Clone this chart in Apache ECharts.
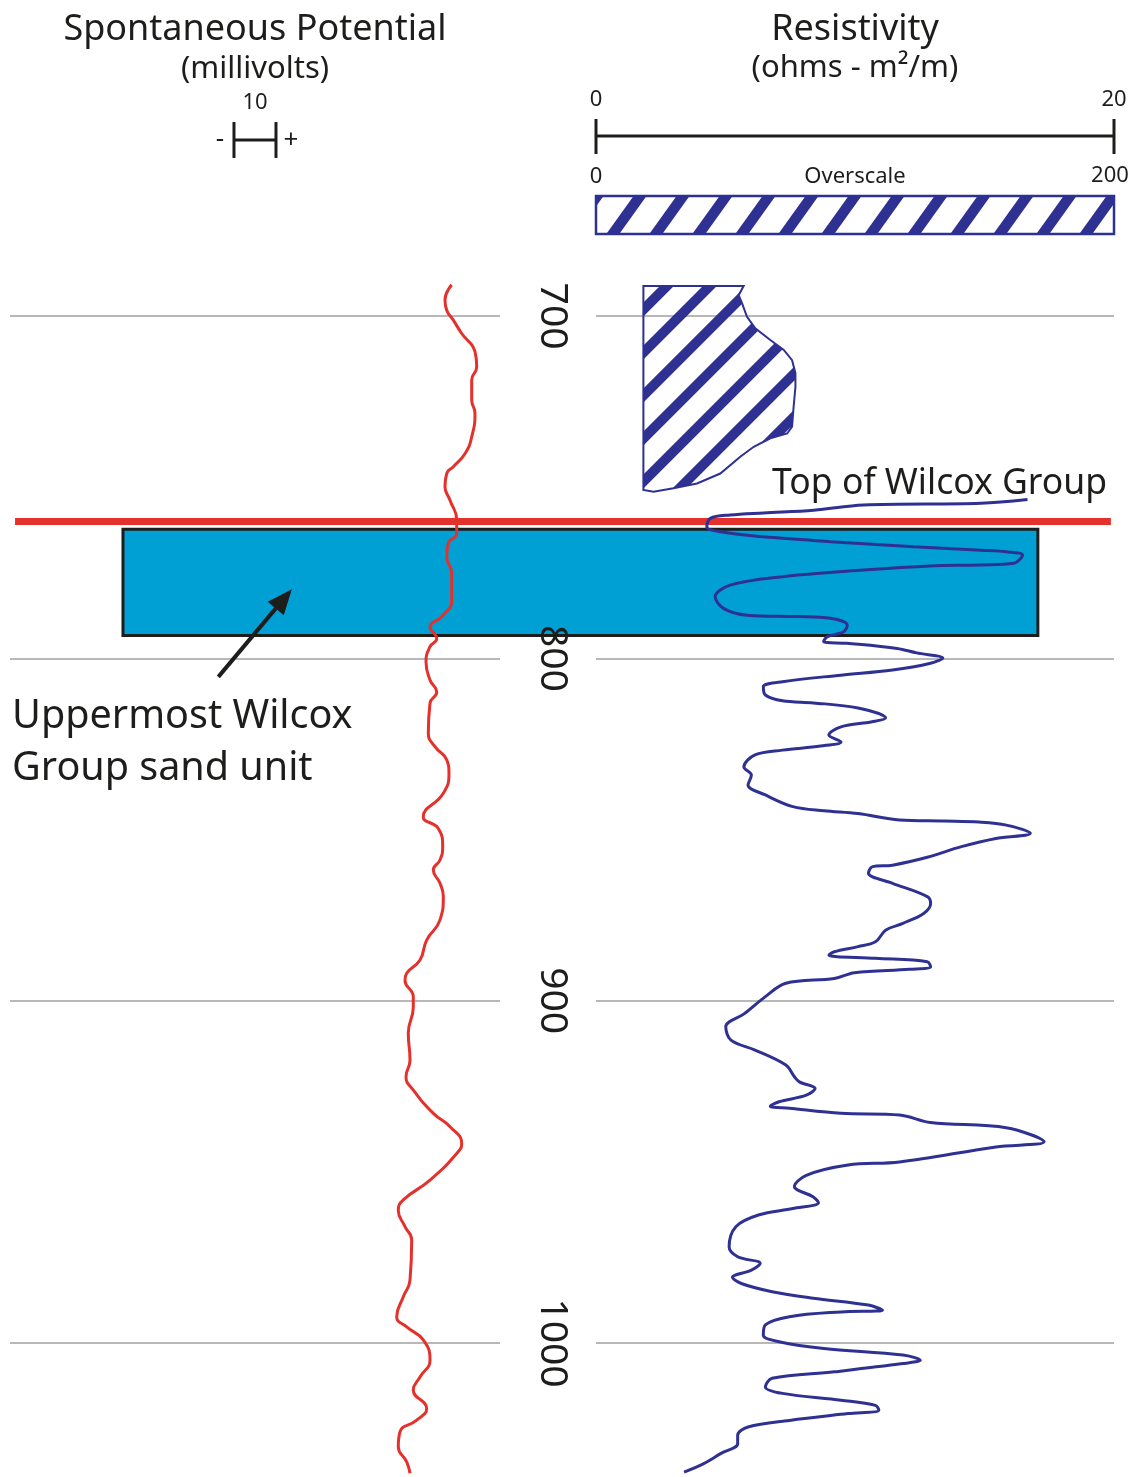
<!DOCTYPE html>
<html>
<head>
<meta charset="utf-8">
<title>Spontaneous Potential and Resistivity log</title>
<style>
  html, body { margin: 0; padding: 0; background: #ffffff; }
  #chart { width: 1136px; height: 1477px; }
</style>
<script src="https://cdn.jsdelivr.net/npm/echarts@6/dist/echarts.min.js"></script>
</head>
<body>
<div id="chart"></div>
<script>
// ---- Log readings (depth in m) ----
const depthTicks = [700, 800, 900, 1000];

// Spontaneous potential, mV (relative scale)
const spDepth = [690.9, 695.3, 698.3, 701.2, 705.1, 710.4, 714.8, 718.7, 724.5, 728.4, 735.3, 740.1, 744.0, 746.0, 749.9,
  753.8, 759.6, 763.5, 766.4, 770.3, 775.2, 783.0, 787.8, 790.8, 794.2, 796.6, 801.0, 806.3, 809.8, 813.1, 821.9, 825.8,
  829.7, 833.6, 839.4, 846.3, 849.7, 855.0, 858.9, 861.8, 865.7, 869.6, 876.4, 882.3, 888.1, 892.0, 894.0, 898.9, 901.8,
  909.5, 917.3, 922.2, 926.1, 932.9, 936.8, 941.7, 944.6, 952.4, 958.2, 961.2, 966.0, 969.9, 981.6, 986.5, 992.3, 995.3,
  999.1, 1005.0, 1009.9, 1013.7, 1019.1, 1022.5, 1025.9, 1030.3, 1034.7, 1038.0];
const spMv = [5.17, 3.57, 3.98, 5.55, 7.55, 10.71, 11.12, 9.93, 9.93, 10.71, 9.93, 8.40, 5.55, 3.98, 3.57,
  4.76, 6.36, 6.36, 4.36, 3.98, 5.17, 5.17, 2.79, 0.00, 1.60, 0.00, -0.95, 0.00, 1.60, 0.00, -0.40, 1.19,
  4.00, 4.52, 3.17, -1.60, 1.98, 3.02, 2.38, 0.79, 2.38, 3.17, 2.38, -0.79, -2.38, -5.55, -5.95, -3.98, -3.98,
  -5.17, -4.76, -5.71, -3.98, 0.79, 4.76, 7.55, 6.36, 0.00, -6.36, -7.55, -5.95, -4.36, -4.76, -6.36, -7.93, -5.55,
  -1.60, 0.00, -2.38, -3.98, -0.79, -3.17, -7.14, -7.55, -5.55, -4.76];

// Resistivity, ohm-m on the 0-20 scale
const resDepth = [753.6, 754.7, 755.2, 756.7, 757.5, 758.1, 759.1, 761.6, 763.0, 764.5, 765.9, 767.4, 768.4, 768.9, 769.8,
  772.2, 772.7, 773.0, 774.2, 776.2, 778.6, 782.0, 785.4, 787.4, 787.8, 788.3, 790.3, 792.2, 793.7, 795.1, 795.6, 797.1,
  798.4, 799.9, 801.4, 803.4, 804.9, 806.8, 808.3, 810.7, 812.4, 813.0, 814.5, 817.4, 818.5, 820.0, 822.4, 824.4, 825.6,
  826.8, 828.2, 831.7, 834.1, 837.0, 839.9, 843.3, 844.5, 845.3, 847.2, 847.5, 847.8, 848.7, 851.1, 852.6, 855.0, 858.1,
  860.4, 860.9, 862.8, 865.7, 869.6, 871.6, 874.5, 877.4, 879.4, 882.8, 884.2, 885.7, 886.7, 887.6, 888.6, 890.1, 890.8,
  891.8, 893.5, 894.9, 898.8, 903.7, 907.6, 911.5, 914.4, 918.8, 922.2, 923.7, 925.6, 927.6, 929.5, 930.8, 931.4, 932.9,
  933.4, 935.6, 937.1, 941.2, 942.7, 947.1, 948.0, 951.0, 954.3, 957.3, 959.0, 960.7, 962.6, 966.0, 971.9, 974.8, 976.7,
  978.7, 980.8, 982.6, 985.0, 986.9, 988.9, 990.4, 990.9, 992.3, 994.7, 997.7, 999.6, 1001.6, 1003.5, 1005.0, 1006.0,
  1008.4, 1010.3, 1012.8, 1014.7, 1016.7, 1018.2, 1019.6, 1020.6, 1022.6, 1024.5, 1026.9, 1029.4, 1032.3, 1035.3, 1037.7];
const resOhm = [16.66, 14.86, 10.33, 8.41, 6.47, 5.18, 4.41, 4.28, 4.80, 6.47, 9.05, 12.27, 14.86, 15.9, 16.47,
  16.14, 14.86, 12.92, 10.34, 7.12, 5.18, 4.60, 4.92, 5.83, 7.76, 9.05, 9.70, 9.57, 8.92, 8.79, 9.70, 11.63,
  12.38, 13.39, 12.92, 11.45, 9.46, 7.20, 6.46, 6.54, 7.20, 8.39, 10.12, 11.18, 10.66, 9.46, 8.99, 9.46, 8.67,
  7.20, 6.14, 5.71, 6.00, 5.87, 6.54, 7.60, 8.80, 10.12, 11.72, 13.45, 14.78, 15.84, 16.77, 15.44, 14.11, 12.79,
  11.45, 10.66, 10.52, 11.45, 12.79, 12.92, 12.65, 11.85, 11.18, 10.79, 10.12, 9.20, 8.99, 10.79, 12.79, 12.92, 12.11,
  9.98, 9.20, 7.33, 6.54, 5.74, 5.01, 5.21, 6.14, 7.33, 7.66, 7.85, 8.46, 8.12, 7.07, 6.73, 7.47, 9.46,
  11.72, 12.92, 15.84, 17.30, 15.44, 11.72, 9.73, 8.12, 7.66, 8.39, 8.59, 7.60, 6.27, 5.40, 5.14, 5.47, 6.34,
  6.00, 5.27, 5.61, 6.80, 8.39, 10.52, 11.06, 9.46, 7.47, 6.54, 6.46, 7.07, 8.80, 11.85, 12.52, 11.85,
  9.20, 6.80, 6.54, 7.20, 9.46, 10.79, 10.92, 9.73, 7.47, 5.87, 5.47, 5.47, 4.81, 4.14, 3.40];

// Overscale resistivity, ohm-m on the 0-200 scale, shaded from its base value
const overDepth = [691.2, 693.9, 696.3, 700.2, 703.6, 707.0, 709.9, 712.9, 716.7, 720.7, 726.5, 732.3, 734.3, 735.7,
  738.2, 741.1, 746.0, 748.9, 750.3, 751.3];
const overOhm = [57.0, 55.1, 56.4, 58.3, 61.5, 67.3, 72.5, 75.7, 77.0, 77.0, 76.3, 75.7, 73.8, 67.3,
  60.9, 55.7, 48.0, 39.0, 29.9, 22.2];
const overBase = 18.3;

// Markers
const wilcoxTop = 760;                 // top of Wilcox Group
const sandUnit = [762.3, 793.3];       // uppermost Wilcox Group sand unit (top, base)
const spScaleBar = [-46.67, -36.67];   // 10 mV scale bar

// ---- Styling ----
const NAVY = '#2e3192', RED = '#e4312b', SAND = '#00a0d5', INK = '#1d1d1b', GRIDC = '#a0a0a0';
const FONT = '"Noto Sans", "Open Sans", sans-serif';

// Seamless "/" hatch tile: horizontal period w, wraps after h rows, stripe thickness t (px across x)
function stripes(w, h, t) {
  const c = document.createElement('canvas');
  c.width = w; c.height = h;
  const g = c.getContext('2d');
  const img = g.createImageData(w, h);
  const S = 4, slope = w / h;
  for (let y = 0; y < h; y++) {
    for (let x = 0; x < w; x++) {
      let cov = 0;
      for (let sy = 0; sy < S; sy++) {
        for (let sx = 0; sx < S; sx++) {
          const px = x + (sx + 0.5) / S, py = y + (sy + 0.5) / S;
          const u = ((px + py * slope) % w + w) % w;
          if (u < t) cov++;
        }
      }
      const i = (y * w + x) * 4;
      img.data[i] = 0x2e; img.data[i + 1] = 0x31; img.data[i + 2] = 0x92;
      img.data[i + 3] = Math.round(255 * cov / (S * S));
    }
  }
  g.putImageData(img, 0, 0);
  return c;
}
const hatchShape = { image: stripes(43, 43, 14), repeat: 'repeat' };
const hatchBar = { image: stripes(43, 60, 13), repeat: 'repeat' };

const chart = echarts.init(document.getElementById('chart'));

const trackTop = -26.3, trackHeight = 1711.7;   // depth 600 .. 1100
const depthAxis = (grid, labels) => ({
  type: 'value', gridIndex: grid, inverse: true, min: 600, max: 1100, interval: 100,
  axisLine: { show: false }, axisTick: { show: false },
  splitLine: { show: true, lineStyle: { color: GRIDC, width: 1.5 } },
  axisLabel: labels ? {
    show: true, rotate: -90, margin: 24, color: INK, fontSize: 39, fontFamily: FONT,
    showMinLabel: false, showMaxLabel: false,
    formatter: v => depthTicks.includes(v) ? String(v) : ''
  } : { show: false }
});

chart.setOption({
  animation: false,
  backgroundColor: '#ffffff',
  grid: [
    { left: 10, width: 490, top: trackTop, height: trackHeight, outerBoundsMode: 'none' },
    { left: 596, width: 518, top: trackTop, height: trackHeight, outerBoundsMode: 'none' }
  ],
  xAxis: [
    { type: 'value', gridIndex: 0, min: -100, max: -100 + 490 / 4.2, show: false },
    { type: 'value', gridIndex: 1, min: 0, max: 20, show: false },
    { type: 'value', gridIndex: 1, min: 0, max: 200, show: false }
  ],
  yAxis: [depthAxis(0, false), depthAxis(1, true)],
  series: [
    {
      name: 'Spontaneous Potential', type: 'line', xAxisIndex: 0, yAxisIndex: 0, z: 4,
      data: spDepth.map((d, i) => [spMv[i], d]),
      showSymbol: false, smooth: 0.5,
      lineStyle: { color: RED, width: 3 }
    },
    {
      name: 'Resistivity', type: 'line', xAxisIndex: 1, yAxisIndex: 1, z: 4,
      data: resDepth.map((d, i) => [resOhm[i], d]),
      showSymbol: false, smooth: 0.35,
      lineStyle: { color: NAVY, width: 3 }
    }
  ]
});

// ---- Annotations placed through the axis scales ----
const spX = v => chart.convertToPixel({ xAxisIndex: 0 }, v);
const resX = v => chart.convertToPixel({ xAxisIndex: 1 }, v);
const overX = v => chart.convertToPixel({ xAxisIndex: 2 }, v);
const depY = d => chart.convertToPixel({ yAxisIndex: 1 }, d);

function label(str, x, y, size, align) {
  const a = align || 'center';
  return {
    type: 'text', x, y, silent: true, z: 10,
    style: { text: str, fill: INK, font: size + 'px ' + FONT,
      textAlign: a, textVerticalAlign: 'middle', align: a, verticalAlign: 'middle' }
  };
}
function seg(x1, y1, x2, y2, color, width, z) {
  return { type: 'line', silent: true, z: z || 10,
    shape: { x1, y1, x2, y2 }, style: { stroke: color, lineWidth: width } };
}

const els = [];

// Spontaneous potential header and 10 mV scale bar
const b0 = spX(spScaleBar[0]), b1 = spX(spScaleBar[1]), bMid = (b0 + b1) / 2;
els.push(label('Spontaneous Potential', bMid, 30, 36));
els.push(label('(millivolts)', bMid, 69, 31));
els.push(label('10', bMid, 103, 22));
els.push(seg(b0, 122, b0, 158, INK, 3));
els.push(seg(b1, 122, b1, 158, INK, 3));
els.push(seg(b0, 140, b1, 140, INK, 3));
els.push(label('-', b0 - 14, 140, 26));
els.push(label('+', b1 + 15, 141, 26));

// Resistivity header and scales
const r0 = resX(0), r20 = resX(20), rMid = resX(10);
els.push(label('Resistivity', rMid, 30, 36));
els.push(label('(ohms - m\u00B2/m)', rMid, 68, 31));
els.push(label('0', r0, 100, 22));
els.push(label('20', r20, 100, 22));
els.push(seg(r0, 136, r20, 136, INK, 3));
els.push(seg(r0, 119, r0, 154, INK, 3));
els.push(seg(r20, 119, r20, 154, INK, 3));
const o0 = overX(0), o200 = overX(200);
els.push(label('0', o0, 177, 22));
els.push(label('Overscale', overX(100), 177, 22));
els.push(label('200', o200 - 4, 176, 22));
els.push({
  type: 'rect', silent: true, z: 10,
  shape: { x: o0, y: 196, width: o200 - o0, height: 38 },
  style: { fill: hatchBar, stroke: NAVY, lineWidth: 2.5 }
});

// Overscale resistivity, hatched out to the curve
const overPts = [[overX(overBase), depY(overDepth[0])]];
overDepth.forEach((d, i) => overPts.push([overX(overOhm[i]), depY(d)]));
overPts.push([overX(overBase), depY(overDepth[overDepth.length - 1] - 0.5)]);
els.push({
  type: 'polygon', silent: true, z: 5,
  shape: { points: overPts },
  style: { fill: hatchShape, stroke: NAVY, lineWidth: 2 }
});

// Uppermost Wilcox Group sand unit
const sy0 = depY(sandUnit[0]), sy1 = depY(sandUnit[1]);
els.push({
  type: 'rect', silent: true, z: 0,
  shape: { x: spX(-73.1), y: sy0, width: resX(17.06) - spX(-73.1), height: sy1 - sy0 },
  style: { fill: SAND, stroke: INK, lineWidth: 3 }
});

// Top of Wilcox Group
const wy = depY(wilcoxTop);
els.push(seg(spX(-98.8), wy, resX(19.88), wy, RED, 7, 1));
els.push(label('Top of Wilcox Group', resX(6.8), depY(749.1), 35.5, 'left'));

// Arrow pointing at the sand unit
const tail = [spX(-50.4), depY(805.4)], tip = [spX(-32.9), depY(779.8)];
const dx = tip[0] - tail[0], dy = tip[1] - tail[1], len = Math.hypot(dx, dy);
const ux = dx / len, uy = dy / len, headL = 25, headW = 10.5;
const base = [tip[0] - ux * headL, tip[1] - uy * headL];
els.push(seg(tail[0], tail[1], base[0], base[1], INK, 4, 8));
els.push({
  type: 'polygon', silent: true, z: 8,
  shape: { points: [tip, [base[0] - uy * headW, base[1] + ux * headW], [base[0] + uy * headW, base[1] - ux * headW]] },
  style: { fill: INK }
});
els.push(label('Uppermost Wilcox', spX(-99.5), depY(817.1), 39.5, 'left'));
els.push(label('Group sand unit', spX(-99.5), depY(832.3), 39.5, 'left'));

chart.setOption({ graphic: { elements: els } });
</script>
</body>
</html>
